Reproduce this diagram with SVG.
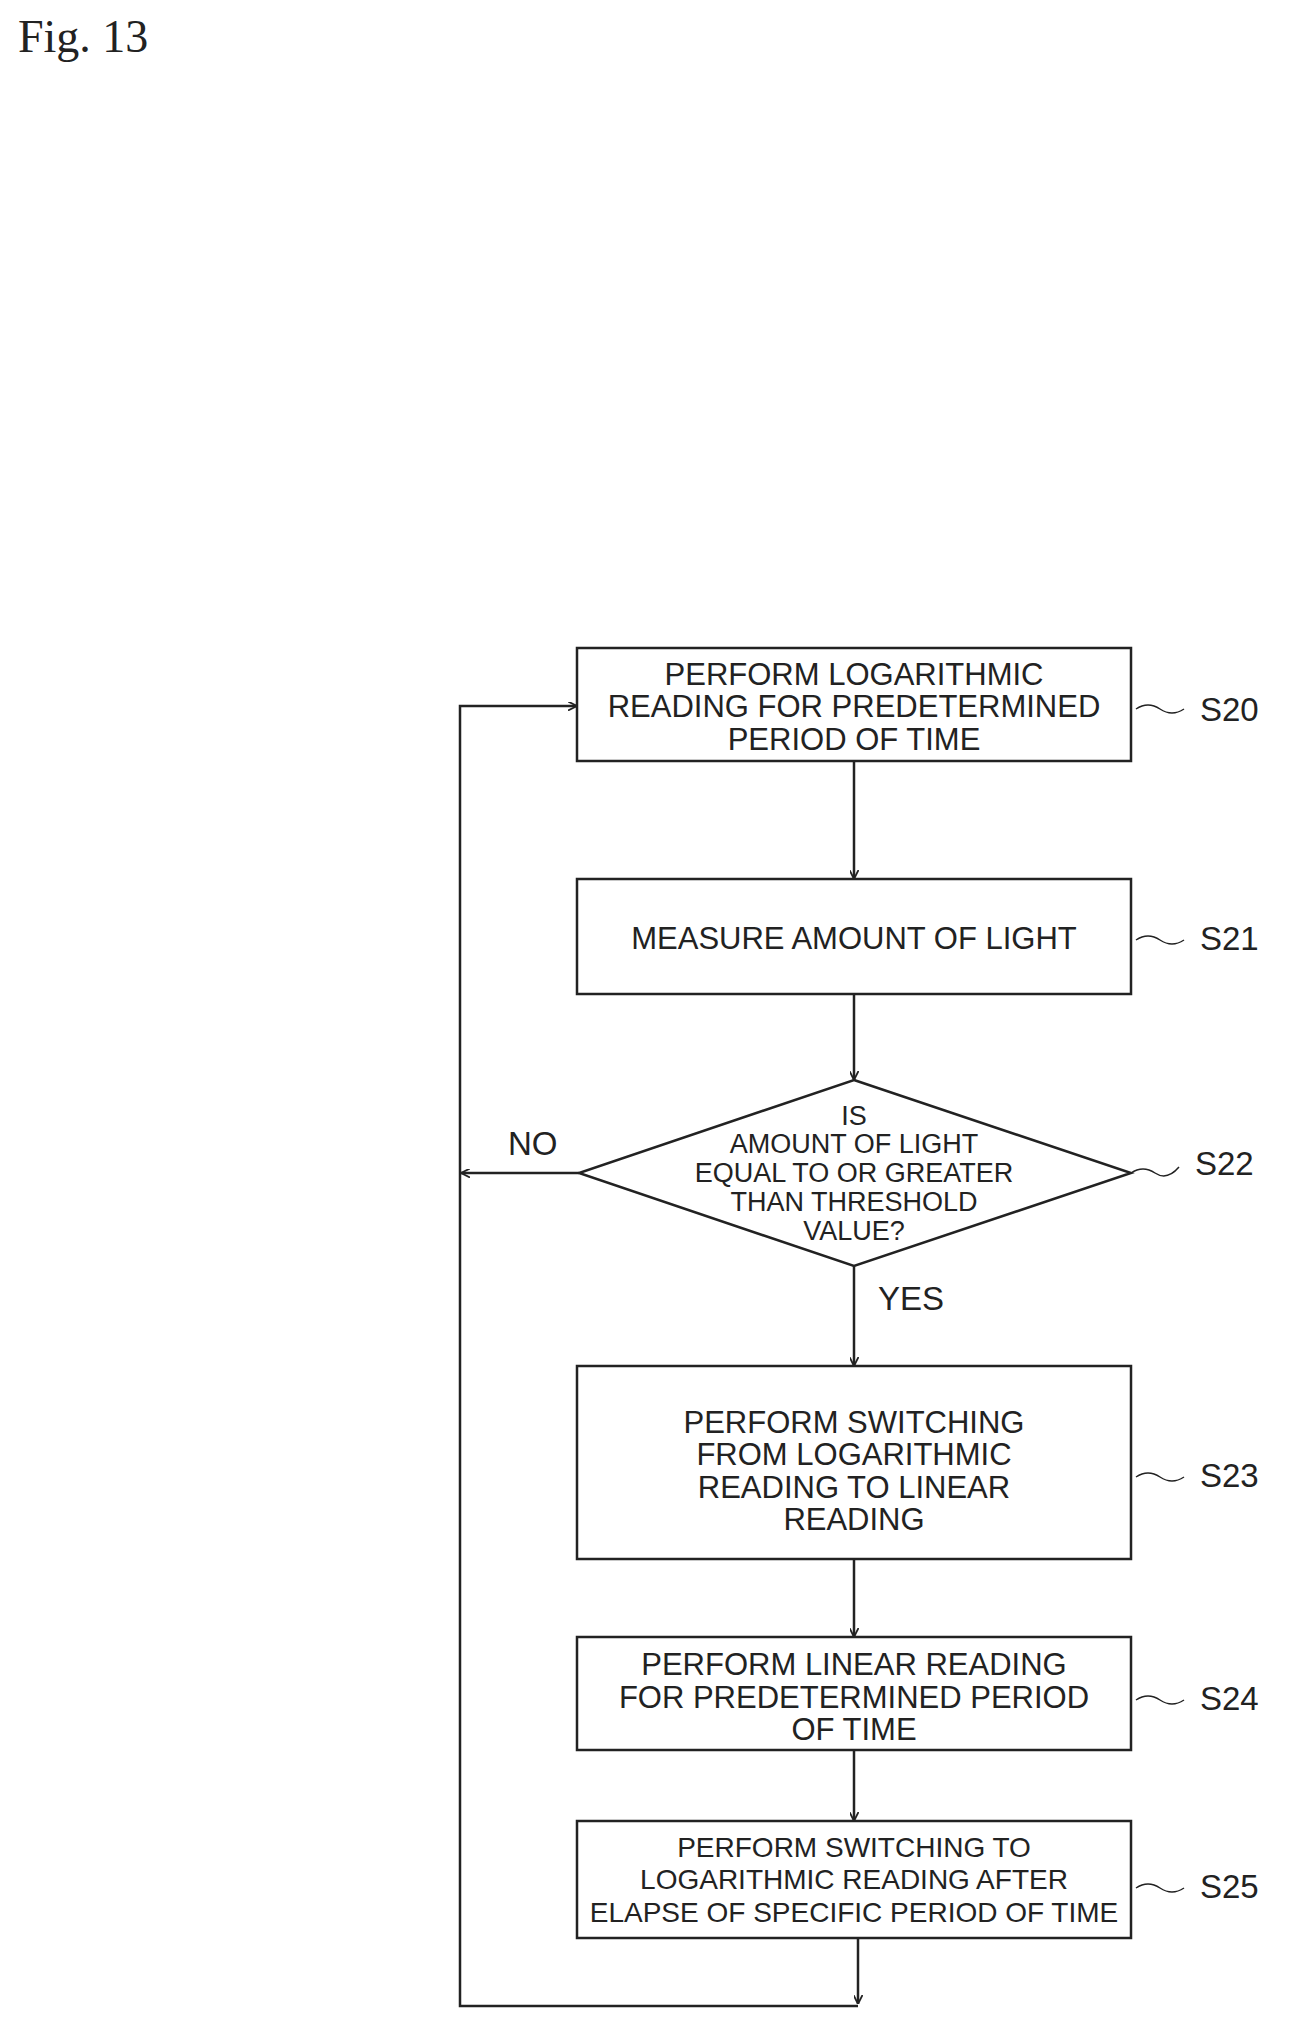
<svg xmlns="http://www.w3.org/2000/svg" width="1296" height="2041" viewBox="0 0 1296 2041">
<style>
.b{fill:#fff;stroke:#222;stroke-width:2.5}
.c{fill:none;stroke:#222;stroke-width:2.5}
.t{font-family:"Liberation Sans",Arial,sans-serif;font-size:31px;fill:#222;text-anchor:middle;dominant-baseline:central}
.d{font-size:27px}
.l{font-family:"Liberation Sans",Arial,sans-serif;font-size:33px;fill:#222;dominant-baseline:central}
.w{fill:none;stroke:#222;stroke-width:1.5}
</style>
<defs><marker id="a" viewBox="0 0 10 10" refX="10" refY="5" markerWidth="9" markerHeight="9" markerUnits="userSpaceOnUse" orient="auto"><path d="M0,0L10,5L0,10" fill="none" stroke="#222" stroke-width="2"/></marker></defs>
<rect width="1296" height="2041" fill="#fff"/>
<text x="18" y="52" style="font-family:'Liberation Serif',serif;font-size:46px;fill:#222">Fig. 13</text>
<g id="connectors">
<line class="c" x1="854" y1="761" x2="854" y2="879" marker-end="url(#a)"/>
<line class="c" x1="854" y1="994" x2="854" y2="1080" marker-end="url(#a)"/>
<line class="c" x1="854" y1="1266" x2="854" y2="1366" marker-end="url(#a)"/>
<line class="c" x1="854" y1="1559" x2="854" y2="1637" marker-end="url(#a)"/>
<line class="c" x1="854" y1="1750" x2="854" y2="1821" marker-end="url(#a)"/>
<line class="c" x1="858" y1="1938" x2="858" y2="2004" marker-end="url(#a)"/>
<polyline class="c" points="858,2006 460,2006 460,706 577,706" marker-end="url(#a)"/>
<line class="c" x1="579" y1="1173" x2="461" y2="1173" marker-end="url(#a)"/>
<text class="l" x="508" y="1143">NO</text>
<text class="l" x="878" y="1298">YES</text>
</g>
<g id="S20"><rect class="b" x="577" y="648" width="554" height="113"/>
<text class="t" x="854" y="674">PERFORM LOGARITHMIC</text><text class="t" x="854" y="706">READING FOR PREDETERMINED</text><text class="t" x="854" y="739">PERIOD OF TIME</text>
<path class="w" d="M1136,709 q12,-8 24,0 t24,0"/><text class="l" x="1200" y="709">S20</text></g>
<g id="S21"><rect class="b" x="577" y="879" width="554" height="115"/>
<text class="t" x="854" y="938">MEASURE AMOUNT OF LIGHT</text>
<path class="w" d="M1136,940 q12,-8 24,0 t24,0"/><text class="l" x="1200" y="938">S21</text></g>
<g id="S22"><polygon class="b" points="854,1080 1131,1173 854,1266 579,1173"/>
<text class="t d" x="854" y="1116">IS</text><text class="t d" x="854" y="1144">AMOUNT OF LIGHT</text><text class="t d" x="854" y="1173">EQUAL TO OR GREATER</text><text class="t d" x="854" y="1202">THAN THRESHOLD</text><text class="t d" x="854" y="1231">VALUE?</text>
<path class="w" d="M1131,1173 q12,-8 24,0 t24,-6"/><text class="l" x="1195" y="1163">S22</text></g>
<g id="S23"><rect class="b" x="577" y="1366" width="554" height="193"/>
<text class="t" x="854" y="1422">PERFORM SWITCHING</text><text class="t" x="854" y="1454">FROM LOGARITHMIC</text><text class="t" x="854" y="1487">READING TO LINEAR</text><text class="t" x="854" y="1519">READING</text>
<path class="w" d="M1136,1477 q12,-8 24,0 t24,0"/><text class="l" x="1200" y="1475">S23</text></g>
<g id="S24"><rect class="b" x="577" y="1637" width="554" height="113"/>
<text class="t" x="854" y="1664">PERFORM LINEAR READING</text><text class="t" x="854" y="1697">FOR PREDETERMINED PERIOD</text><text class="t" x="854" y="1729">OF TIME</text>
<path class="w" d="M1136,1700 q12,-8 24,0 t24,0"/><text class="l" x="1200" y="1698">S24</text></g>
<g id="S25"><rect class="b" x="577" y="1821" width="554" height="117"/>
<text class="t" x="854" y="1847" style="font-size:28px">PERFORM SWITCHING TO</text><text class="t" x="854" y="1879" style="font-size:28px">LOGARITHMIC READING AFTER</text><text class="t" x="854" y="1912" style="font-size:28px">ELAPSE OF SPECIFIC PERIOD OF TIME</text>
<path class="w" d="M1136,1888 q12,-8 24,0 t24,0"/><text class="l" x="1200" y="1886">S25</text></g>
</svg>
